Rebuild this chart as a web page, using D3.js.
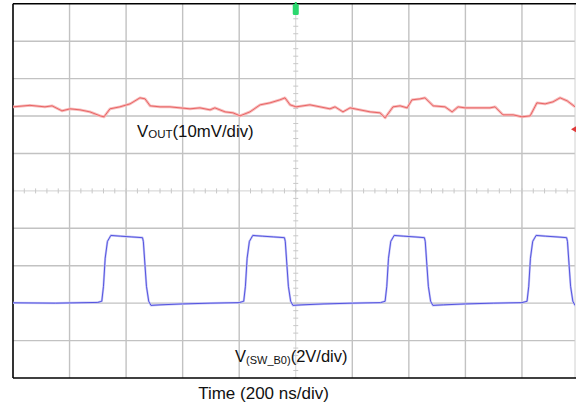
<!DOCTYPE html>
<html><head><meta charset="utf-8">
<script src="https://cdn.jsdelivr.net/npm/d3@7"></script>
<style>html,body{margin:0;padding:0;background:#fff;}svg{display:block;font-family:"Liberation Sans",Arial,sans-serif;}</style>
</head><body>
<svg id="c" width="576" height="411"></svg>
<script>
// Time axis (ns), 200 ns/div, 10 divisions
const timeTicks = [0,200,400,600,800,1000,1200,1400,1600,1800,2000];
const divTicks = [-5,-4,-3,-2,-1,0,1,2,3,4,5];

// VOUT ripple (mV, relative to the gridline 2 div above centre), 10 mV/div
const voutT = [0,60,113,138,173,202,237,272,308,322,343,378,414,449,467,485,520,555,591,626,661,697,714,750,778,803,838,874,909,944,962,980,1001,1050,1086,1121,1139,1167,1192,1227,1263,1298,1316,1344,1369,1394,1411,1440,1457,1486,1528,1553,1574,1599,1634,1687,1705,1733,1769,1800,1829,1853,1882,1910,1935,1960,1988];
const voutMv = [2.46,2.86,2.46,2.73,1.39,1.93,1.66,1.12,0.05,-0.2,1.93,2.46,3.26,4.87,4.6,2.73,2.46,2.46,2.19,1.93,2.19,1.66,2.19,1.12,0.86,0.05,1.12,3.0,3.53,4.33,4.87,3.0,2.46,3.0,2.46,1.93,2.46,1.12,2.19,1.66,1.12,0.86,-0.48,2.46,2.73,2.19,4.33,4.6,4.87,2.73,2.46,1.12,2.46,2.19,2.19,2.19,2.46,0.32,0.32,-0.2,0.05,3.53,3.26,3.8,4.87,4.06,2.46];

// Switch node V(SW_B0) (V, 0 V at 3 div below centre), 2 V/div
const swT = [0,150,300,314,320,326,334,346,380,420,458,461,466,472,480,488,520,600,700,800,816,822,828,836,848,882,922,960,963,968,974,982,990,1022,1100,1200,1300,1316,1322,1328,1336,1348,1382,1422,1455,1458,1463,1469,1477,1485,1522,1600,1700,1800,1818,1824,1830,1838,1850,1884,1924,1958,1961,1966,1972,1980,1988,2000];
const swV = [0.02,0.0,0.04,0.1,0.9,2.4,3.3,3.62,3.58,3.54,3.5,3.3,2.2,0.9,0.1,-0.12,-0.09,-0.04,0.0,0.03,0.1,0.9,2.4,3.3,3.62,3.58,3.54,3.5,3.3,2.2,0.9,0.1,-0.12,-0.09,-0.04,0.0,0.03,0.1,0.9,2.4,3.3,3.62,3.58,3.54,3.5,3.3,2.2,0.9,0.1,-0.12,-0.09,-0.04,0.0,0.03,0.1,0.9,2.4,3.3,3.62,3.58,3.54,3.5,3.3,2.2,0.9,0.1,-0.12,-0.1];

const svg = d3.select("#c");
const L = 13, T = 3.8, B = 378, R = 575;

const x = d3.scaleLinear().domain([0,2000]).range([L, 578.5]);
const yDiv = d3.scaleLinear().domain([-5,5]).range([B, T]);
const yVout = d3.scaleLinear().domain([0,10]).range([yDiv(2), yDiv(3)]);
const ySw = d3.scaleLinear().domain([0,2]).range([yDiv(-3), yDiv(-2)]);

svg.append("defs").append("clipPath").attr("id","clip")
  .append("rect").attr("x",L).attr("y",T).attr("width",R-L).attr("height",B-T);

const g = svg.append("g");

// grid
g.selectAll("line.vg").data(timeTicks.filter(t=>t!==1000 && t!==0)).enter().append("line")
  .attr("x1",d=>x(d)).attr("x2",d=>x(d)).attr("y1",T).attr("y2",B)
  .attr("stroke","#c2c2c2").attr("stroke-width",1.4).attr("clip-path","url(#clip)");
g.selectAll("line.hg").data(divTicks.filter(d=>d!==0 && Math.abs(d)!==5)).enter().append("line")
  .attr("x1",L).attr("x2",R).attr("y1",d=>yDiv(d)).attr("y2",d=>yDiv(d))
  .attr("stroke","#c2c2c2").attr("stroke-width",1.4);

// centre crosshair with minor ticks
g.append("line").attr("x1",L).attr("x2",R).attr("y1",yDiv(0)).attr("y2",yDiv(0))
  .attr("stroke","#d2d2d2").attr("stroke-width",1);
g.append("line").attr("x1",x(1000)).attr("x2",x(1000)).attr("y1",T).attr("y2",B)
  .attr("stroke","#d2d2d2").attr("stroke-width",1);
const minorT = d3.range(0,2001,40);
g.selectAll("line.mt").data(minorT).enter().append("line")
  .attr("x1",d=>x(d)).attr("x2",d=>x(d)).attr("y1",yDiv(0)-2.5).attr("y2",yDiv(0)+2.5)
  .attr("stroke","#c8c8c8").attr("stroke-width",1).attr("clip-path","url(#clip)");
const minorD = d3.range(-5,5.001,0.2);
g.selectAll("line.md").data(minorD).enter().append("line")
  .attr("x1",x(1000)-2.5).attr("x2",x(1000)+2.5).attr("y1",d=>yDiv(d)).attr("y2",d=>yDiv(d))
  .attr("stroke","#c8c8c8").attr("stroke-width",1);

// frame
g.append("line").attr("x1",R).attr("x2",R).attr("y1",T).attr("y2",B).attr("stroke","#d0d0d0").attr("stroke-width",1);
g.append("line").attr("x1",L).attr("x2",576).attr("y1",T).attr("y2",T).attr("stroke","#000").attr("stroke-width",1.6);
g.append("line").attr("x1",L).attr("x2",576).attr("y1",B).attr("y2",B).attr("stroke","#000").attr("stroke-width",1.6);
g.append("line").attr("x1",L).attr("x2",L).attr("y1",T).attr("y2",B).attr("stroke","#000").attr("stroke-width",1.6);

// traces
const lineV = d3.line().x((d,i)=>x(voutT[i])).y(d=>yVout(d));
const lineS = d3.line().x((d,i)=>x(swT[i])).y(d=>ySw(d));
const tg = g.append("g").attr("clip-path","url(#clip)");
tg.append("path").attr("d",lineV(voutMv)).attr("fill","none").attr("stroke","#f7bcbc").attr("stroke-width",2.8).attr("stroke-linejoin","round");
tg.append("path").attr("d",lineV(voutMv)).attr("fill","none").attr("stroke","#e65a5a").attr("stroke-width",0.9).attr("stroke-linejoin","round");
tg.append("path").attr("d",lineS(swV)).attr("fill","none").attr("stroke","#c4c4f6").attr("stroke-width",2.2).attr("stroke-linejoin","round");
tg.append("path").attr("d",lineS(swV)).attr("fill","none").attr("stroke","#4848dc").attr("stroke-width",0.9).attr("stroke-linejoin","round");

// markers
svg.append("path").attr("d",`M571,${yVout(-3.5)} L576,${yVout(-3.5)-3} L576,${yVout(-3.5)+3} Z`).attr("fill","#e03a3a");
svg.append("rect").attr("x",x(1000)-3).attr("y",4).attr("width",6).attr("height",11).attr("rx",1.5).attr("fill","#2bd86e");
svg.append("rect").attr("x",x(1000)-1).attr("y",2).attr("width",2).attr("height",4).attr("fill","#2bd86e");

// labels
const t1 = svg.append("text").attr("x",137).attr("y",137).attr("font-size",16.8).attr("fill","#111");
t1.append("tspan").text("V");
t1.append("tspan").attr("font-size",11.5).attr("dy",1).text("OUT");
t1.append("tspan").attr("dy",-1).text("(10mV/div)");

const t2 = svg.append("text").attr("x",235).attr("y",361.5).attr("font-size",16.5).attr("fill","#111");
t2.append("tspan").text("V");
t2.append("tspan").attr("font-size",11).attr("dy",2).text("(SW_B0)");
t2.append("tspan").attr("dy",-2).text("(2V/div)");

svg.append("text").attr("x",263.5).attr("y",399).attr("text-anchor","middle").attr("font-size",17).attr("fill","#111").text("Time (200 ns/div)");
</script>
</body></html>
